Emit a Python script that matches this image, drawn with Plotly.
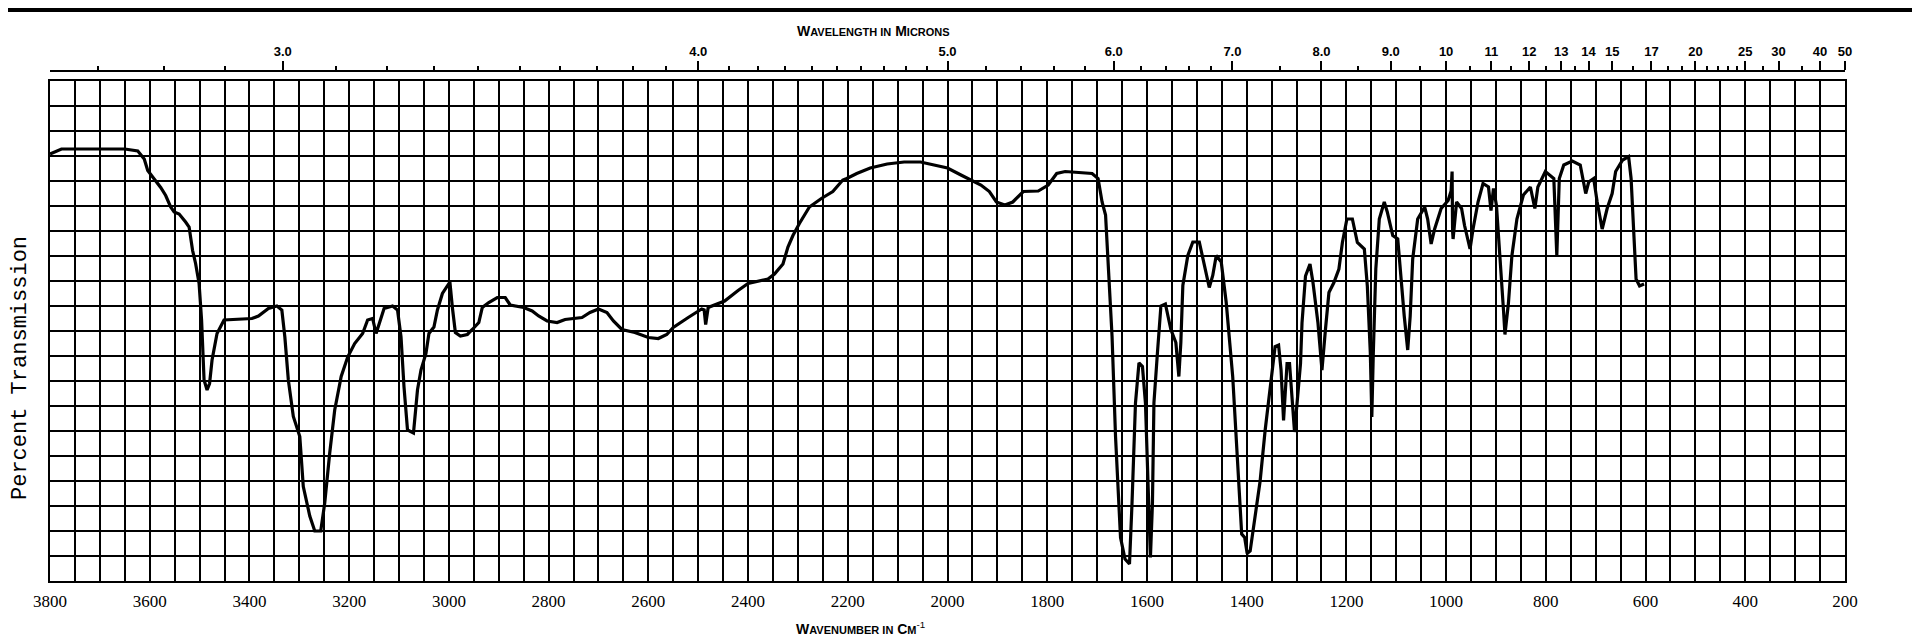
import plotly.graph_objects as go

# spectrum: wavenumber (cm-1) and percent transmission
wavenumber = [
    3800, 3777, 3650, 3624, 3611, 3604, 3591, 3578, 3568, 3558, 3551, 3541, 3528, 3521,
    3514, 3508, 3501, 3496, 3491, 3485, 3480, 3475, 3465, 3451, 3395, 3382, 3362, 3345,
    3335, 3329, 3322, 3312, 3299, 3292, 3279, 3269, 3257, 3249, 3239, 3229, 3216, 3203,
    3189, 3173, 3163, 3153, 3146, 3140, 3130, 3113, 3103, 3096, 3090, 3083, 3071, 3063,
    3056, 3046, 3040, 3030, 3023, 3013, 2998, 2993, 2987, 2977, 2963, 2953, 2940, 2933,
    2920, 2903, 2887, 2877, 2850, 2833, 2820, 2803, 2783, 2767, 2733, 2717, 2700, 2683,
    2670, 2653, 2627, 2600, 2580, 2563, 2550, 2520, 2493, 2488, 2485, 2480, 2447, 2420,
    2400, 2360, 2347, 2330, 2320, 2310, 2297, 2277, 2253, 2230, 2210, 2202, 2182, 2155,
    2121, 2087, 2054, 2027, 2000, 1973, 1953, 1933, 1916, 1902, 1885, 1869, 1848, 1818,
    1798, 1781, 1764, 1710, 1698, 1690, 1683, 1677, 1670, 1663, 1653, 1644, 1635, 1630,
    1623, 1616, 1609, 1603, 1596, 1593, 1589, 1586, 1579, 1572, 1563, 1552, 1542, 1536,
    1532, 1528, 1518, 1508, 1495, 1485, 1475, 1468, 1461, 1451, 1441, 1428, 1417, 1410,
    1404, 1399, 1393, 1387, 1380, 1373, 1363, 1353, 1343, 1336, 1331, 1326, 1319, 1314,
    1309, 1304, 1299, 1292, 1289, 1282, 1273, 1267, 1257, 1249, 1242, 1235, 1225, 1215,
    1208, 1199, 1188, 1178, 1164, 1158, 1152, 1149, 1146, 1141, 1134, 1124, 1118, 1107,
    1097, 1090, 1084, 1077, 1072, 1067, 1057, 1043, 1037, 1030, 1023, 1010, 996, 990,
    988, 987, 986, 979, 969, 963, 952, 946, 936, 926, 915, 910, 905, 899,
    892, 885, 882, 875, 868, 858, 845, 831, 822, 816, 801, 784, 778, 773,
    764, 747, 731, 720, 714, 704, 697, 687, 677, 667, 660, 646, 634, 629,
    624, 619, 612, 603,
]
transmission = [
    85.4, 86.4, 86.4, 86.0, 84.4, 82.1, 80.4, 78.7, 77.1, 74.8, 73.8, 73.4, 71.8, 70.8,
    66.1, 63.5, 59.5, 52.2, 40.2, 38.2, 39.5, 44.2, 49.5, 52.2, 52.5, 53.0, 54.5, 55.0,
    54.2, 48.8, 40.2, 32.9, 28.9, 18.9, 13.0, 10.0, 10.0, 15.6, 25.6, 34.2, 40.9, 44.8,
    47.5, 49.5, 52.2, 52.5, 49.5, 51.5, 54.5, 55.0, 54.2, 48.8, 38.8, 30.2, 29.6, 38.2,
    42.2, 45.5, 49.5, 50.8, 54.2, 57.5, 59.8, 54.7, 49.7, 49.0, 49.3, 50.3, 51.7, 54.7,
    55.7, 56.7, 56.7, 55.2, 54.7, 54.0, 53.0, 52.0, 51.7, 52.3, 52.7, 53.7, 54.4, 53.7,
    52.0, 50.3, 49.7, 48.7, 48.5, 49.3, 50.7, 52.7, 54.4, 54.2, 51.3, 54.7, 56.0, 58.1,
    59.5, 60.4, 61.4, 63.4, 66.8, 69.1, 71.5, 74.8, 76.5, 77.9, 80.2, 80.5, 81.5, 82.6,
    83.4, 83.8, 83.8, 83.2, 82.6, 81.2, 80.2, 79.2, 77.9, 75.8, 75.2, 75.8, 77.9, 78.0,
    79.2, 81.5, 81.9, 81.5, 80.5, 75.8, 73.2, 62.4, 49.0, 28.9, 8.7, 4.4, 3.4, 15.4,
    35.6, 43.6, 42.9, 35.6, 15.4, 4.7, 15.4, 35.6, 45.6, 55.0, 55.4, 50.3, 47.7, 40.9,
    47.7, 59.1, 65.1, 67.8, 67.8, 63.1, 58.7, 61.1, 65.1, 63.8, 55.7, 40.9, 22.1, 9.4,
    8.7, 5.5, 6.0, 10.0, 15.3, 20.0, 30.1, 38.8, 46.9, 47.2, 42.2, 32.1, 43.5, 43.5,
    36.8, 29.8, 35.5, 43.5, 51.6, 61.0, 63.4, 59.7, 51.6, 42.2, 50.3, 57.7, 59.7, 62.4,
    67.7, 72.4, 72.4, 67.7, 66.4, 59.0, 45.6, 32.8, 45.6, 62.4, 72.4, 75.8, 73.8, 69.1,
    68.4, 59.7, 53.0, 46.2, 53.0, 64.4, 72.4, 74.8, 72.4, 67.4, 70.4, 74.5, 76.1, 78.0,
    81.9, 70.0, 68.4, 75.8, 74.5, 71.1, 66.4, 70.4, 75.8, 79.5, 78.8, 74.1, 78.5, 75.1,
    65.7, 54.3, 49.3, 55.6, 65.1, 72.4, 77.2, 78.8, 74.5, 78.8, 81.9, 80.5, 65.1, 80.5,
    83.2, 84.0, 83.2, 77.5, 79.8, 80.5, 75.8, 70.4, 74.5, 77.5, 81.9, 84.2, 84.9, 80.5,
    70.4, 60.4, 59.0, 59.4,
]

# bottom scale (wavenumber) and top scale (wavelength in microns)
wn_labels = [3800, 3600, 3400, 3200, 3000, 2800, 2600, 2400, 2200, 2000,
             1800, 1600, 1400, 1200, 1000, 800, 600, 400, 200]
micron_major = [3.0, 4.0, 5.0, 6.0, 7.0, 8.0, 9.0, 10, 11, 12, 13, 14, 15, 17, 20, 25, 30, 40, 50]
micron_labels = ["3.0", "4.0", "5.0", "6.0", "7.0", "8.0", "9.0", "10", "11", "12",
                 "13", "14", "15", "17", "20", "25", "30", "40", "50"]
micron_minor = [2.7, 2.8, 2.9, 3.1, 3.2, 3.3, 3.4, 3.5, 3.6, 3.7, 3.8, 3.9,
                4.1, 4.2, 4.3, 4.4, 4.5, 4.6, 4.7, 4.8, 4.9, 5.2, 5.4, 5.6, 5.8,
                6.2, 6.4, 6.6, 6.8, 7.5, 8.5, 9.5, 10.5, 11.5, 12.5, 13.5, 16,
                18, 19, 21, 22, 23, 24, 27.5, 35]

grid_vals = list(range(200, 3801, 50))
grid_text = [str(v) if v in wn_labels else "" for v in grid_vals]

# the page puts the figure 8px in from the corner, so the figure is that much smaller
OFF = 8
W, H = 1920 - OFF, 640 - OFF
L, R, T, B = 50 - OFF, 75, 71 - OFF, 59
pw, ph = W - L - R, H - T - B


def px(x):
    # page pixel -> paper x
    return (x - OFF - L) / pw


def py(y):
    # page pixel -> paper y
    return (H - B - (y - OFF)) / ph


fig = go.Figure()
fig.add_trace(go.Scatter(x=wavenumber, y=transmission, mode="lines",
                         line=dict(color="black", width=3.2), showlegend=False,
                         hoverinfo="skip"))
# dummy traces so the top scales get drawn
for ax in ["x2", "x3"]:
    fig.add_trace(go.Scatter(x=[3800, 200], y=[None, None], xaxis=ax, yaxis="y",
                             mode="lines", showlegend=False, hoverinfo="skip"))

rng = [3800, 200]
fig.update_layout(
    width=W, height=H,
    margin=dict(l=L, r=R, t=T, b=B),
    paper_bgcolor="white", plot_bgcolor="white",
    xaxis=dict(range=rng, tickmode="array", tickvals=grid_vals, ticktext=grid_text,
               showgrid=True, gridcolor="black", gridwidth=1.7,
               showline=True, linecolor="black", linewidth=2, mirror=True,
               ticks="", ticklabelstandoff=4, zeroline=False,
               tickfont=dict(family="Liberation Serif", size=17, color="black")),
    yaxis=dict(range=[0, 100], domain=[0, py(81)], dtick=5, showgrid=True,
               gridcolor="black", gridwidth=1.7, showticklabels=False,
               showline=True, linecolor="black", linewidth=2, mirror=True,
               zeroline=False, ticks=""),
    xaxis2=dict(range=rng, overlaying="x", anchor="free", position=1, side="top",
                tickmode="array", tickvals=[10000 / m for m in micron_major],
                ticktext=micron_labels, ticks="outside", ticklen=9, tickwidth=2,
                tickcolor="black", showline=True, linecolor="black", linewidth=2,
                showgrid=False, zeroline=False,
                tickfont=dict(family="Liberation Sans", size=13, color="black", weight="bold")),
    xaxis3=dict(range=rng, overlaying="x", anchor="free", position=1, side="top",
                tickmode="array", tickvals=[10000 / m for m in micron_minor],
                ticks="outside", ticklen=5, tickwidth=1.5, tickcolor="black",
                showticklabels=False, showline=False, showgrid=False, zeroline=False),
)

# black strip along the top edge of the scan
fig.add_shape(type="rect", xref="paper", yref="paper",
              x0=px(0), x1=px(1930), y0=py(12), y1=py(0),
              fillcolor="black", line=dict(width=0), layer="above")

fig.add_annotation(x=px(873), y=py(31), xref="paper", yref="paper", showarrow=False,
                   xanchor="center", yanchor="middle",
                   text="<b>W<span style='font-size:11px'>AVELENGTH IN</span> "
                        "M<span style='font-size:11px'>ICRONS</span></b>",
                   font=dict(family="Liberation Sans", size=14, color="black"))
fig.add_annotation(x=px(860), y=py(628), xref="paper", yref="paper", showarrow=False,
                   xanchor="center", yanchor="middle",
                   text="<b>W<span style='font-size:11px'>AVENUMBER IN</span> "
                        "C<span style='font-size:11px'>M</span></b><sup>-1</sup>",
                   font=dict(family="Liberation Sans", size=14, color="black"))
fig.add_annotation(x=px(21), y=py(368), xref="paper", yref="paper", showarrow=False,
                   xanchor="center", yanchor="middle",
                   text="Percent Transmission", textangle=-90,
                   font=dict(family="Liberation Mono", size=22, color="black"))

fig.write_html("out.html")
